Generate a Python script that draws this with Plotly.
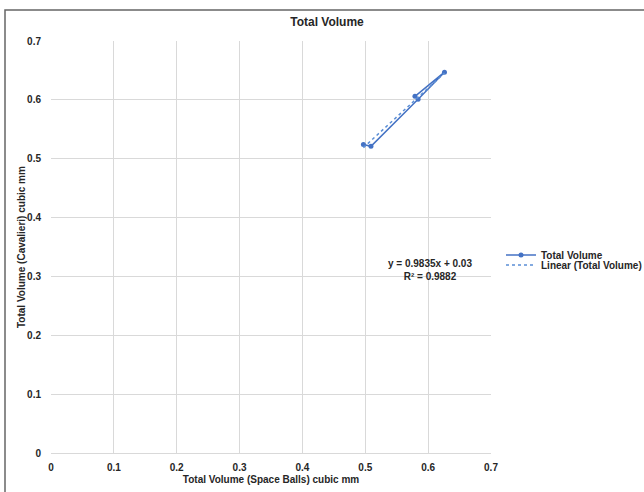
import plotly.graph_objects as go

# Data
x_space_balls = [0.497, 0.509, 0.584, 0.626, 0.579]
y_cavalieri = [0.524, 0.521, 0.601, 0.647, 0.606]
tick_vals = [0, 0.1, 0.2, 0.3, 0.4, 0.5, 0.6, 0.7]
tick_text = ["0", "0.1", "0.2", "0.3", "0.4", "0.5", "0.6", "0.7"]
trend_slope = 0.9835
trend_intercept = 0.03
r_squared = 0.9882

BLUE = "#4472C4"
FONT = "Liberation Sans, Arial, sans-serif"
TXT = "#262626"

PL, PR, PT, PB = 51, 491, 41, 453  # plot area in pixels
PW, PH = PR - PL, PB - PT

x_lo, x_hi = min(x_space_balls), max(x_space_balls)
trend_x = [x_lo, x_hi]
trend_y = [trend_slope * v + trend_intercept for v in trend_x]

fig = go.Figure()
fig.add_trace(go.Scatter(
    x=x_space_balls, y=y_cavalieri, mode="lines+markers", name="<b>Total Volume</b>",
    line=dict(color=BLUE, width=1.5), marker=dict(color=BLUE, size=5), legend="legend",
))
fig.add_trace(go.Scatter(
    x=trend_x, y=trend_y, mode="lines", name="<b>Linear (Total Volume)</b>",
    line=dict(color="#5B8FD6", width=1.5, dash="dot"), legend="legend2",
))

fig.add_annotation(x=(430 - PL) / PW, y=(PB - 269.5) / PH, xref="paper", yref="paper",
                   xanchor="center", yanchor="middle",
                   text=f"<b>y = {trend_slope}x + {trend_intercept}<br>R² = {r_squared}</b>",
                   showarrow=False, align="center",
                   font=dict(family=FONT, size=10, color=TXT))
# y axis title
fig.add_annotation(x=(21 - PL) / PW, y=0.5, xref="paper", yref="paper",
                   xanchor="center", yanchor="middle", textangle=-90,
                   text="<b>Total Volume (Cavalieri) cubic mm</b>", showarrow=False,
                   font=dict(family=FONT, size=10, color=TXT))

axis_common = dict(
    range=[0, 0.7], tickvals=tick_vals, ticktext=[f"<b>{t}</b>" for t in tick_text],
    showgrid=True, gridcolor="#d9d9d9", gridwidth=1, zeroline=False,
    tickfont=dict(family=FONT, size=10, color=TXT),
    ticks="", automargin=False,
)
fig.update_xaxes(**axis_common, showline=True, linecolor="#d9d9d9", ticklabelstandoff=5,
                 title=dict(text="<b>Total Volume (Space Balls) cubic mm</b>",
                            font=dict(family=FONT, size=10, color=TXT), standoff=3))
fig.update_yaxes(**axis_common, showline=False, ticklabelstandoff=9)

leg_common = dict(x=(501 - PL) / PW, xanchor="left", yanchor="middle",
                  font=dict(family=FONT, size=10, color=TXT),
                  bgcolor="rgba(0,0,0,0)", itemwidth=30)

fig.update_layout(
    width=644, height=492,
    margin=dict(l=PL, r=644 - PR, t=PT, b=492 - PB, autoexpand=False),
    paper_bgcolor="white", plot_bgcolor="white",
    showlegend=True,
    title=dict(text="<b>Total Volume</b>", x=327 / 644, xanchor="center", y=1 - 22 / 492,
               yanchor="middle", font=dict(family=FONT, size=12, color=TXT)),
    legend=dict(y=(PB - 255) / PH, **leg_common),
    legend2=dict(y=(PB - 265) / PH, **leg_common),
    shapes=[dict(type="rect", xref="paper", yref="paper",
                 x0=(5 - PL) / PW, x1=(660 - PL) / PW,
                 y0=(PB - 500) / PH, y1=(PB - 10) / PH,
                 line=dict(color="#666666", width=1.5), layer="below")],
)

fig.write_html("out.html", config={"displayModeBar": False},
               post_script="document.body.style.margin='0';document.body.style.overflow='hidden';")
